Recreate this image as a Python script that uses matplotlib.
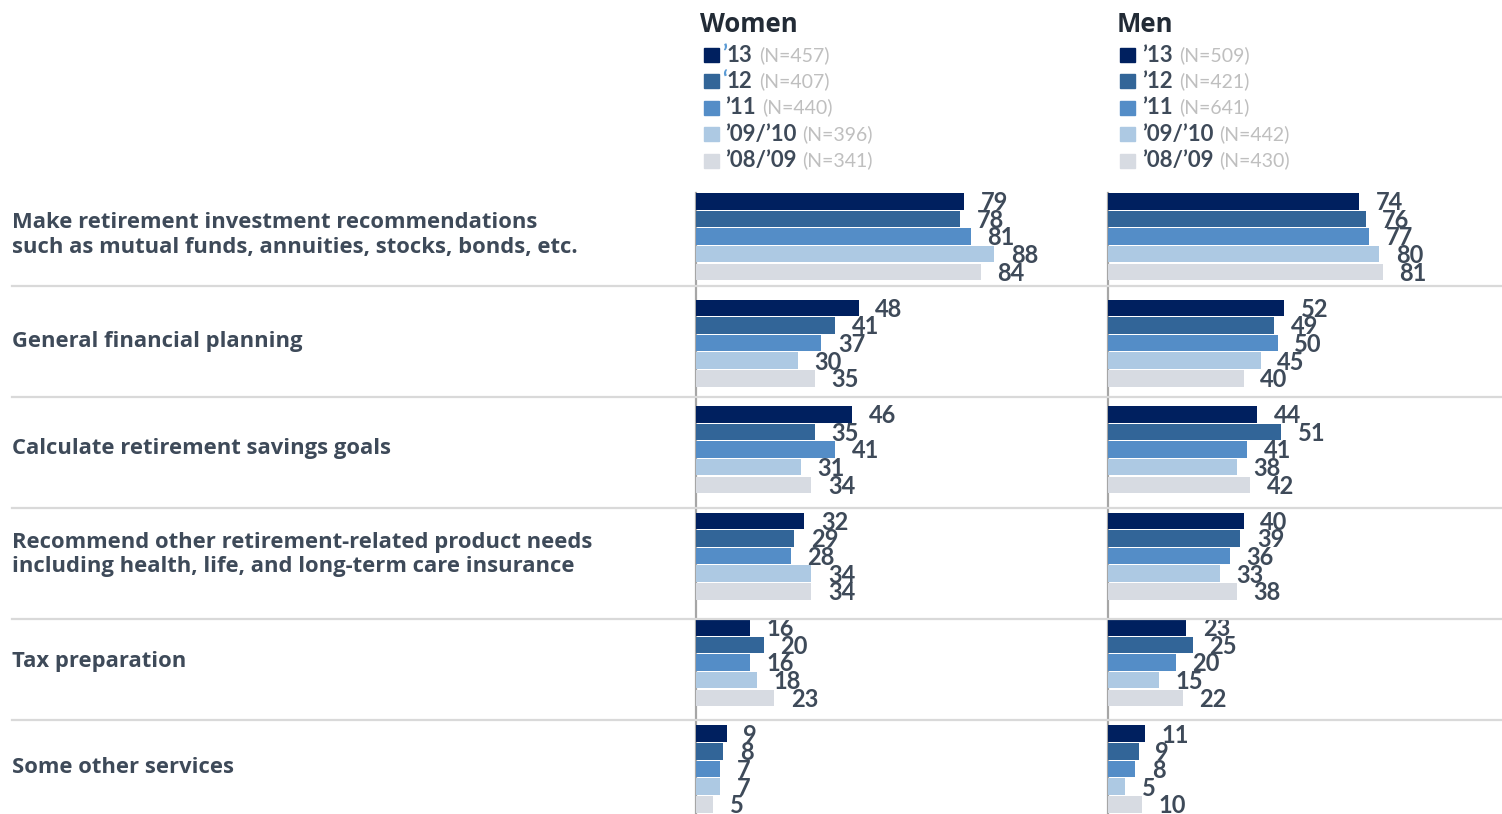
import matplotlib
matplotlib.use("Agg")
import matplotlib.pyplot as plt
from matplotlib.lines import Line2D
from matplotlib.patches import Rectangle
from matplotlib.transforms import blended_transform_factory

# ---------------- data ----------------
categories = [
    "Make retirement investment recommendations\nsuch as mutual funds, annuities, stocks, bonds, etc.",
    "General financial planning",
    "Calculate retirement savings goals",
    "Recommend other retirement-related product needs\nincluding health, life, and long-term care insurance",
    "Tax preparation",
    "Some other services",
]
series_labels = ["’13", "’12", "’11", "’09/’10", "’08/’09"]
women_n = ["(N=457)", "(N=407)", "(N=440)", "(N=396)", "(N=341)"]
men_n = ["(N=509)", "(N=421)", "(N=641)", "(N=442)", "(N=430)"]

women_13 = [79, 48, 46, 32, 16, 9]
women_12 = [78, 41, 35, 29, 20, 8]
women_11 = [81, 37, 41, 28, 16, 7]
women_0910 = [88, 30, 31, 34, 18, 7]
women_0809 = [84, 35, 34, 34, 23, 5]

men_13 = [74, 52, 44, 40, 23, 11]
men_12 = [76, 49, 51, 39, 25, 9]
men_11 = [77, 50, 41, 36, 20, 8]
men_0910 = [80, 45, 38, 33, 15, 5]
men_0809 = [81, 40, 42, 38, 22, 10]

women = [women_13, women_12, women_11, women_0910, women_0809]
men = [men_13, men_12, men_11, men_0910, men_0809]

# ---------------- style ----------------
colors = ["#00205F", "#326598", "#548DC7", "#ADC9E3", "#D7DBE2"]
TXT = "#3E4A59"
NGRAY = "#BFBFBF"
W_PX, H_PX = 1502, 814
DPI = 100

fig = plt.figure(figsize=(W_PX / DPI, H_PX / DPI), dpi=DPI)
fig.patch.set_facecolor("white")

PITCH_PX = 106.5          # pixels per category group
TOP_PX = 193              # top of first bar
PX_PER_UNIT = 3.39        # pixels per percentage point
bar_pitch = 0.1655
bar_h = 0.155


def make_panel(left_px, width_px, data):
    ax = fig.add_axes([left_px / W_PX, 0, width_px / W_PX, (H_PX - TOP_PX) / H_PX])
    ax.set_xlim(0, width_px / PX_PER_UNIT)
    ax.set_ylim((H_PX - TOP_PX) / PITCH_PX, 0)
    for j, vals in enumerate(data):
        ys = [i + j * bar_pitch + bar_h / 2 for i in range(len(vals))]
        ax.barh(ys, vals, height=bar_h, color=colors[j], edgecolor="none", zorder=3)
        for y, v in zip(ys, vals):
            ax.annotate(str(v), xy=(v, y), xytext=(12.0, -1.0), textcoords="offset points",
                        ha="left", va="center", fontsize=17, fontweight="bold",
                        family="Lato", color=TXT, zorder=4, annotation_clip=False)
    for s in ["top", "right", "bottom"]:
        ax.spines[s].set_visible(False)
    ax.spines["left"].set_color("#A6A6A6")
    ax.spines["left"].set_linewidth(1.6)
    ax.set_xticks([])
    ax.set_yticks([])
    ax.patch.set_alpha(0)
    return ax


ax_w = make_panel(696, 405, women)
ax_m = make_panel(1108, 394, men)

# separators across the whole width
sep_y = [0.873, 1.915, 2.958, 4.0, 4.948]
tr = blended_transform_factory(fig.transFigure, ax_w.transData)
for y in sep_y:
    fig.add_artist(Line2D([12 / W_PX, 1.0], [y, y], transform=tr, color="#D9D9D9",
                          lw=1.6, zorder=1))

# category labels
for i, cat in enumerate(categories):
    fig.text(12 / W_PX, i + 0.395, cat, transform=tr, ha="left", va="center",
             fontsize=15.8, fontweight="bold", family="Open Sans", color=TXT,
             linespacing=1.22)

renderer = fig.canvas.get_renderer()


def fx(px):
    return px / W_PX


def fy(py):
    return 1 - py / H_PX


def seg_text(x_px, y_px, segments):
    x = x_px
    for s, color, weight, size, gap in segments:
        t = fig.text(fx(x), fy(y_px), s, ha="left", va="center", fontsize=size,
                     fontweight=weight, family="Lato", color=color)
        bb = t.get_window_extent(renderer=renderer)
        x = x + bb.width + gap


def legend(title, title_x, sq_x, txt_x, n_labels, blue_apos):
    fig.text(fx(title_x), fy(24), title, ha="left", va="center", fontsize=18.5,
             fontweight="bold", family="Open Sans", color="#222B36")
    rows = [55, 81, 107.5, 134, 160.5]
    for j, (lab, n) in enumerate(zip(series_labels, n_labels)):
        y = rows[j]
        fig.add_artist(Rectangle((fx(sq_x), fy(y + 7)), 15 / W_PX, 14 / H_PX,
                                 transform=fig.transFigure, color=colors[j]))
        if blue_apos and j < 2:
            segs = [(lab[0] if j == 0 else "‘", "#5B9BD5", "bold", 16, 0),
                    (lab[1:], TXT, "bold", 16, 6),
                    (n, NGRAY, "normal", 14, 0)]
        else:
            segs = [(lab, TXT, "bold", 16, 6), (n, NGRAY, "normal", 14, 0)]
        seg_text(txt_x + (0 if j < 2 or not blue_apos else 3), y, segs)


legend("Women", 700, 704, 722, women_n, True)
legend("Men", 1117, 1120, 1142, men_n, False)

fig.savefig("out.png", dpi=DPI, facecolor="white")
